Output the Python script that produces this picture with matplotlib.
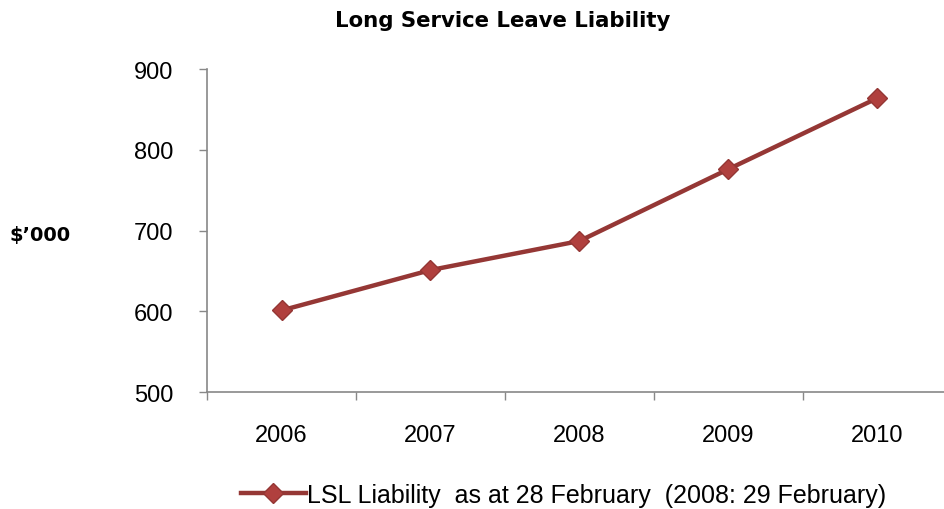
import matplotlib.pyplot as plt

# data
years = ['2006', '2007', '2008', '2009', '2010']
lsl = [601, 651, 687, 776, 864]

tick_font = 'Liberation Sans'

fig = plt.figure(figsize=(9.44, 5.10), dpi=100)
ax = fig.add_axes([0.2193, 0.2294, 0.789, 0.6333])

x = range(len(years))
ax.plot(x, lsl, color='#953735', linewidth=3.2, marker='D', markersize=10,
        markerfacecolor='#b0403e', markeredgecolor='#943634', markeredgewidth=1,
        label='LSL Liability  as at 28 February  (2008: 29 February)', clip_on=False)

ax.set_xlim(-0.5, len(years) - 0.5)
ax.set_ylim(500, 900)
ax.set_yticks([500, 600, 700, 800, 900])
ax.set_xticks([i - 0.5 for i in range(len(years) + 1)])
ax.set_xticklabels([])
ax.set_xticks(list(x), minor=True)
ax.set_xticklabels(years, minor=True)
ax.tick_params(axis='x', which='minor', length=0, pad=23)
ax.tick_params(axis='x', which='major', length=6, color='#888888', width=1)
ax.tick_params(axis='y', length=6, color='#888888', width=1, pad=18)
for lab in ax.get_xticklabels(minor=True) + ax.get_yticklabels():
    lab.set_fontfamily(tick_font)
    lab.set_fontsize(17)

for s in ['top', 'right']:
    ax.spines[s].set_visible(False)
for s in ['left', 'bottom']:
    ax.spines[s].set_color('#888888')
    ax.spines[s].set_linewidth(1.2)

fig.text(0.532, 0.958, 'Long Service Leave Liability', ha='center', va='center',
         fontsize=15.3, fontweight='bold', family='DejaVu Sans')
fig.text(0.01, 0.538, "$\u2019000", ha='left', va='center', fontsize=14,
         fontweight='bold', family='DejaVu Sans')

leg = fig.legend(loc='center', bbox_to_anchor=(0.597, 0.028), frameon=False,
                 prop={'family': tick_font, 'size': 18}, handlelength=2.6,
                 handletextpad=0.05)

fig.savefig('out.png', dpi=100)
